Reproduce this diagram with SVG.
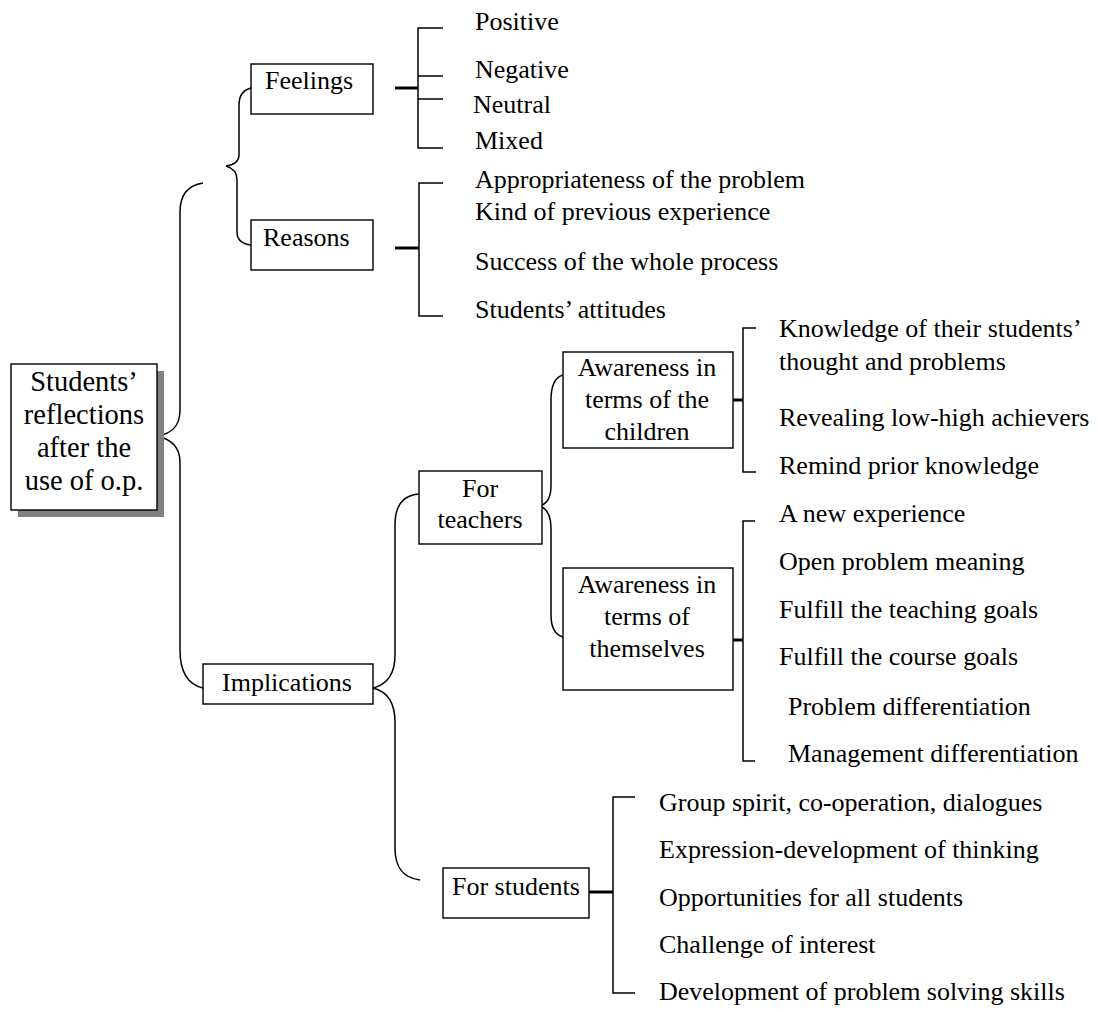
<svg xmlns="http://www.w3.org/2000/svg" width="1098" height="1012" viewBox="0 0 1098 1012">
<style>
.box{fill:#fff;stroke:#000;stroke-width:1.4}
.shadow{fill:#808080}
.t{font-family:"Liberation Serif","Times New Roman",serif;font-size:26px;fill:#000}
.root{font-size:28.5px}
.c{text-anchor:middle}
.ln{fill:none;stroke:#000;stroke-width:1.5}
.stub{fill:none;stroke:#000;stroke-width:3}
</style>
<rect width="1098" height="1012" fill="#fff"/>
<g id="connectors">
<!-- root brace -->
<path class="ln" d="M203,183 C190,185 180,193 180,212 L180,410 C180,428 170,434 157,436 C170,439 180,446 180,462 L180,650 C180,674 190,685 203,688"/>
<!-- feelings/reasons brace -->
<path class="ln" d="M251,88 C243,90 239,95 239,105 L239,155 C239,162 233,165 226,166 C233,168 237,172 237,180 L237,232 C237,240 242,244 251,245"/>
<!-- implications brace -->
<path class="ln" d="M419,494 C405,495 395,503 395,525 L395,655 C395,676 385,685 373,688 C385,691 395,700 395,722 L395,848 C395,870 405,878 420,880"/>
<!-- for teachers brace -->
<path class="ln" d="M563,375 C556,377 551,385 551,400 L551,485 C551,497 548,503 540,506 C548,509 551,516 551,528 L551,615 C551,628 556,635 563,637"/>
<!-- feelings bracket -->
<path class="stub" d="M395,88 H418"/>
<path class="ln" d="M443,28 H418 V148 H443 M418,76 H443 M418,99 H443"/>
<!-- reasons bracket -->
<path class="stub" d="M395,248 H419"/>
<path class="ln" d="M443,183 H419 V316 H443"/>
<!-- children bracket -->
<path class="stub" d="M731,400 H743"/>
<path class="ln" d="M756,328 H743 V472 H756"/>
<!-- themselves bracket -->
<path class="stub" d="M731,640 H743"/>
<path class="ln" d="M755,521 H743 V761 H755"/>
<!-- students bracket -->
<path class="stub" d="M587,892 H613"/>
<path class="ln" d="M635,797 H613 V993 H635"/>
</g>
<g id="root">
<rect class="shadow" x="18" y="371" width="146" height="146"/>
<rect class="box" x="11" y="364" width="146" height="146"/>
<text class="t root c" x="84" y="391">Students’</text>
<text class="t root c" x="84" y="424">reflections</text>
<text class="t root c" x="84" y="457">after the</text>
<text class="t root c" x="84" y="490">use of o.p.</text>
</g>
<g id="feelings">
<rect class="box" x="251" y="64" width="122" height="50"/>
<text class="t" x="265" y="89">Feelings</text>
</g>
<g id="reasons">
<rect class="box" x="251" y="220" width="122" height="50"/>
<text class="t" x="263" y="246">Reasons</text>
</g>
<g id="feelings-items">
<text class="t" x="475" y="30">Positive</text>
<text class="t" x="475" y="78">Negative</text>
<text class="t" x="473" y="113">Neutral</text>
<text class="t" x="475" y="149">Mixed</text>
</g>
<g id="reasons-items">
<text class="t" x="475" y="188">Appropriateness of the problem</text>
<text class="t" x="475" y="220">Kind of previous experience</text>
<text class="t" x="475" y="270">Success of the whole process</text>
<text class="t" x="475" y="318">Students’ attitudes</text>
</g>
<g id="implications">
<rect class="box" x="203" y="664" width="170" height="40"/>
<text class="t" x="222" y="691">Implications</text>
</g>
<g id="for-teachers">
<rect class="box" x="419" y="471" width="123" height="73"/>
<text class="t c" x="480" y="497">For</text>
<text class="t c" x="480" y="528">teachers</text>
</g>
<g id="awareness-children">
<rect class="box" x="563" y="352" width="170" height="96"/>
<text class="t c" x="647" y="376">Awareness in</text>
<text class="t c" x="647" y="408">terms of the</text>
<text class="t c" x="647" y="440">children</text>
</g>
<g id="awareness-themselves">
<rect class="box" x="563" y="568" width="170" height="122"/>
<text class="t c" x="647" y="593">Awareness in</text>
<text class="t c" x="647" y="625">terms of</text>
<text class="t c" x="647" y="657">themselves</text>
</g>
<g id="children-items">
<text class="t" x="779" y="337">Knowledge of their students’</text>
<text class="t" x="779" y="370">thought and problems</text>
<text class="t" x="779" y="426">Revealing low-high achievers</text>
<text class="t" x="779" y="474">Remind prior knowledge</text>
</g>
<g id="themselves-items">
<text class="t" x="779" y="522">A new experience</text>
<text class="t" x="779" y="570">Open problem meaning</text>
<text class="t" x="779" y="618">Fulfill the teaching goals</text>
<text class="t" x="779" y="665">Fulfill the course goals</text>
<text class="t" x="788" y="715">Problem differentiation</text>
<text class="t" x="788" y="762">Management differentiation</text>
</g>
<g id="for-students">
<rect class="box" x="443" y="868" width="146" height="50"/>
<text class="t" x="452" y="895">For students</text>
</g>
<g id="students-items">
<text class="t" x="659" y="811">Group spirit, co-operation, dialogues</text>
<text class="t" x="659" y="858">Expression-development of thinking</text>
<text class="t" x="659" y="906">Opportunities for all students</text>
<text class="t" x="659" y="953">Challenge of interest</text>
<text class="t" x="659" y="1000">Development of problem solving skills</text>
</g>
</svg>
